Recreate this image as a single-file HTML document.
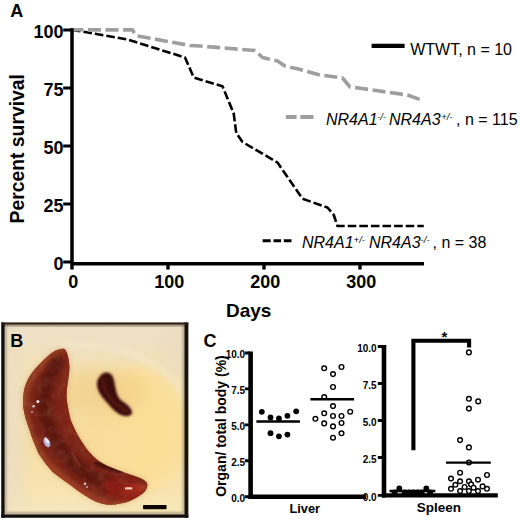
<!DOCTYPE html>
<html><head><meta charset="utf-8">
<style>
html,body{margin:0;padding:0;background:#fff;}
body{width:520px;height:521px;overflow:hidden;font-family:"Liberation Sans",sans-serif;}
svg{display:block;}
text{font-family:"Liberation Sans",sans-serif;fill:#000;}
.b{font-weight:bold;}
.i{font-style:italic;}
</style></head><body>
<svg width="520" height="521" viewBox="0 0 520 521">
<defs>
  <filter id="bl1" x="-10%" y="-10%" width="120%" height="120%"><feGaussianBlur stdDeviation="0.9"/></filter>
  <filter id="bl2" x="-20%" y="-20%" width="140%" height="140%"><feGaussianBlur stdDeviation="2.5"/></filter>
  <filter id="bl3" x="-20%" y="-20%" width="140%" height="140%"><feGaussianBlur stdDeviation="0.6"/></filter>
  <filter id="bl8" x="-30%" y="-30%" width="160%" height="160%"><feGaussianBlur stdDeviation="8"/></filter>
  <linearGradient id="bg" x1="0" y1="0" x2="1" y2="1">
    <stop offset="0" stop-color="#f3e4c6"/>
    <stop offset="0.45" stop-color="#f8e0ab"/>
    <stop offset="0.75" stop-color="#f6d898"/>
    <stop offset="1" stop-color="#f7e3b4"/>
  </linearGradient>
  <linearGradient id="sp" x1="0.3" y1="0" x2="0.8" y2="1">
    <stop offset="0" stop-color="#7a2a14"/>
    <stop offset="0.35" stop-color="#5a170f"/>
    <stop offset="0.7" stop-color="#74190f"/>
    <stop offset="1" stop-color="#9a2416"/>
  </linearGradient>
  <filter id="mot" x="0" y="0" width="100%" height="100%"><feTurbulence type="fractalNoise" baseFrequency="0.085" numOctaves="2" seed="7"/><feColorMatrix type="matrix" values="0 0 0 0 0.22  0 0 0 0 0.04  0 0 0 0 0.03  2.2 0 0 0 -0.95"/><feGaussianBlur stdDeviation="0.7"/></filter>
  <filter id="mot2" x="0" y="0" width="100%" height="100%"><feTurbulence type="fractalNoise" baseFrequency="0.11" numOctaves="2" seed="21"/><feColorMatrix type="matrix" values="0 0 0 0 0.68  0 0 0 0 0.26  0 0 0 0 0.16  0 2.4 0 0 -1.15"/><feGaussianBlur stdDeviation="0.7"/></filter>
  <clipPath id="pc"><rect x="2" y="322.5" width="186.5" height="194.5"/></clipPath>
</defs>
<rect width="520" height="521" fill="#fff"/>

<!-- ===== Panel A ===== -->
<g id="pA">
<text class="b" x="10.2" y="16.9" font-size="18">A</text>
<g class="b" font-size="18" text-anchor="end">
<text x="63.6" y="38.2">100</text>
<text x="63.6" y="96.2">75</text>
<text x="63.6" y="154.2">50</text>
<text x="63.6" y="212.2">25</text>
<text x="63.6" y="270.2">0</text>
</g>
<g class="b" font-size="18" text-anchor="middle">
<text x="73.2" y="287.9">0</text>
<text x="169.3" y="287.9">100</text>
<text x="265.2" y="287.9">200</text>
<text x="361.2" y="287.9">300</text>
</g>
<text class="b" font-size="19" x="226" y="316.5">Days</text>
<text class="b" font-size="19.35" transform="translate(24 223.5) rotate(-90)">Percent survival</text>
<!-- black curve -->
<path d="M72 29.9 L95 33.75 L127.5 39.5 L185 57.5 L193.75 77.5 L200 79.5 L222.5 86.25 L233.75 113.75 L236.25 133 L242.5 142 L277.5 162.5 L302.5 198.75 L327.5 207.5 L333.75 215 L337.5 226 L423.8 226" stroke="#000" stroke-width="2.6" fill="none" stroke-dasharray="8.6 3" stroke-linejoin="round"/>
<!-- grey curve -->
<path d="M70.3 29.8 L132.6 29.9 L135.2 34.6 L138.8 36.2 L190 45.5 L200 46 L255 50.5 L262.5 57.5 L277.5 61 L285 66 L297.5 68.75 L320 75 L342.5 78 L350 87 L355 87.5 L407.5 95 L420 99.5" stroke="#9e9e9e" stroke-width="3.6" fill="none" stroke-dasharray="13.1 4.5" stroke-linejoin="round"/>
<!-- axes -->
<path d="M72 28.3V265.4M70.25 263.65H424" stroke="#000" stroke-width="3.5" fill="none"/>
<path d="M63.2 30H72M63.2 88H72M63.2 146H72M63.2 204H72M63.2 262H72" stroke="#000" stroke-width="3.2" fill="none"/>
<path d="M72 265V269.4M168 265V269.4M264 265V269.4M360 265V269.4" stroke="#000" stroke-width="3.4" fill="none"/>
<!-- legend -->
<path d="M371.6 45.8H404.6" stroke="#000" stroke-width="4.2"/>
<text font-size="16" x="410.2" y="55">WTWT, n = 10</text>
<path d="M285.8 117H296.6M300.3 117H313.5" stroke="#9e9e9e" stroke-width="3.9"/>
<g font-size="16">
<text class="i" x="326" y="125">NR4A1</text>
<text class="i" x="377" y="120.2" font-size="9.5">-/-</text>
<text class="i" x="389" y="125">NR4A3</text>
<text class="i" x="441.2" y="120.2" font-size="9.5">+/-</text>
<text x="456" y="125">, n = 115</text>
</g>
<path d="M262.6 240.8H270.7M273.5 240.8H281.1M283.8 240.8H291.5" stroke="#000" stroke-width="3"/>
<g font-size="16">
<text class="i" x="302" y="248.2">NR4A1</text>
<text class="i" x="353.6" y="243.4" font-size="9.5">+/-</text>
<text class="i" x="369" y="248.2">NR4A3</text>
<text class="i" x="420.6" y="243.4" font-size="9.5">-/-</text>
<text x="432.6" y="248.2">, n = 38</text>
</g>
</g>

<!-- ===== Panel B ===== -->
<g id="pB">
<defs>
  <clipPath id="bigclip"><path d="M64.5 349 C67 351 69 358 69.5 367 C69.5 376 66.5 386 66.5 395.6 C67 405 69 412 70.6 419.8 C73 426 76 432 78.9 437 C83 444 90 455 100 461.7 C108 466.5 114 468.5 120.5 471 C127 473.5 131 474.5 134.8 476 C139 477.5 142 478.5 143.9 480.1 C146.5 482 147.8 483.5 147.4 485.2 C147 488 146 489.5 144.9 491.3 C142 494.5 138 496.5 134.8 498.4 C130 501 126 502.5 120.5 503.5 C115 504.8 111 504.8 106.3 504.5 C100 503.5 95 501 90 498.4 C83 494.5 76 489.5 69.1 484.1 C63 479.5 58 476 52.8 471.9 C47 466 42.5 459.5 38.6 453.6 C35.5 446 32 438.5 30 431.3 C27.5 424 25.5 419 24.8 415 C23.3 409 23 405 23.2 401 C23.3 396 23.6 393 24.2 389.6 C25.5 384 27.5 380 30.2 375.5 C33 371 36.5 367 40.3 363.4 C45 358.5 50 354 54.4 351.3 C58 349.5 62 348.3 64.5 349 Z"/></clipPath>
  <linearGradient id="bgv" x1="0" y1="0" x2="0" y2="1">
    <stop offset="0" stop-color="#ecdfc6"/>
    <stop offset="0.3" stop-color="#f6e2b4"/>
    <stop offset="0.6" stop-color="#f7dea4"/>
    <stop offset="1" stop-color="#f8e6b8"/>
  </linearGradient>
</defs>
<rect x="2" y="322.5" width="186.5" height="194.5" fill="url(#bgv)"/>
<g clip-path="url(#pc)">
  <!-- background tonal variation -->
  <ellipse cx="142" cy="430" rx="46" ry="62" fill="#fbdf98" filter="url(#bl8)" opacity="0.95"/>
  <ellipse cx="100" cy="440" rx="34" ry="26" fill="#f8dc9a" filter="url(#bl8)" opacity="0.7"/>
  <ellipse cx="100" cy="392" rx="48" ry="24" fill="#f2d08a" filter="url(#bl8)" opacity="0.75"/>
  <ellipse cx="11" cy="430" rx="13" ry="100" fill="#ecdec2" filter="url(#bl8)" opacity="0.95"/>
  <ellipse cx="50" cy="512" rx="70" ry="9" fill="#f5e6c4" filter="url(#bl8)" opacity="0.85"/>
  <ellipse cx="165" cy="508" rx="30" ry="10" fill="#f8e8b6" filter="url(#bl8)" opacity="0.85"/>
  <ellipse cx="100" cy="333" rx="95" ry="11" fill="#eee0c6" filter="url(#bl8)" opacity="0.9"/>
  <ellipse cx="178" cy="350" rx="14" ry="30" fill="#ecdcc0" filter="url(#bl8)" opacity="0.8"/>
  <path d="M60 345 C110 340 170 360 186 400" stroke="#faefd8" stroke-width="6" fill="none" filter="url(#bl2)" opacity="0.4"/>
  <!-- soft halo of large spleen -->
  <path d="M64.5 349 C67 351 69 358 69.5 367 C69.5 376 66.5 386 66.5 395.6 C67 405 69 412 70.6 419.8 C73 426 76 432 78.9 437 C83 444 90 455 100 461.7 C108 466.5 114 468.5 120.5 471 C127 473.5 131 474.5 134.8 476 C139 477.5 142 478.5 143.9 480.1 C146.5 482 147.8 483.5 147.4 485.2 C147 488 146 489.5 144.9 491.3 C142 494.5 138 496.5 134.8 498.4 C130 501 126 502.5 120.5 503.5 C115 504.8 111 504.8 106.3 504.5 C100 503.5 95 501 90 498.4 C83 494.5 76 489.5 69.1 484.1 C63 479.5 58 476 52.8 471.9 C47 466 42.5 459.5 38.6 453.6 C35.5 446 32 438.5 30 431.3 C27.5 424 25.5 419 24.8 415 C23.3 409 23 405 23.2 401 C23.3 396 23.6 393 24.2 389.6 C25.5 384 27.5 380 30.2 375.5 C33 371 36.5 367 40.3 363.4 C45 358.5 50 354 54.4 351.3 C58 349.5 62 348.3 64.5 349 Z" fill="#c98a52" filter="url(#bl2)" opacity="0.55"/>
  <!-- large spleen -->
  <g filter="url(#bl3)">
    <path d="M64.5 349 C67 351 69 358 69.5 367 C69.5 376 66.5 386 66.5 395.6 C67 405 69 412 70.6 419.8 C73 426 76 432 78.9 437 C83 444 90 455 100 461.7 C108 466.5 114 468.5 120.5 471 C127 473.5 131 474.5 134.8 476 C139 477.5 142 478.5 143.9 480.1 C146.5 482 147.8 483.5 147.4 485.2 C147 488 146 489.5 144.9 491.3 C142 494.5 138 496.5 134.8 498.4 C130 501 126 502.5 120.5 503.5 C115 504.8 111 504.8 106.3 504.5 C100 503.5 95 501 90 498.4 C83 494.5 76 489.5 69.1 484.1 C63 479.5 58 476 52.8 471.9 C47 466 42.5 459.5 38.6 453.6 C35.5 446 32 438.5 30 431.3 C27.5 424 25.5 419 24.8 415 C23.3 409 23 405 23.2 401 C23.3 396 23.6 393 24.2 389.6 C25.5 384 27.5 380 30.2 375.5 C33 371 36.5 367 40.3 363.4 C45 358.5 50 354 54.4 351.3 C58 349.5 62 348.3 64.5 349 Z" fill="#7a2416"/>
    <g clip-path="url(#bigclip)">
      <!-- lighter outer edge -->
      <path d="M66 347 C50 352 30 372 24 392 C20 412 28 438 42 458 C58 478 85 498 106 505 C125 507 140 498 148 486" stroke="#9c4426" stroke-width="9" fill="none" filter="url(#bl2)" opacity="0.95"/>
      <!-- dark core -->
      <path d="M58 362 C46 378 42 398 46 418 C52 440 68 462 92 478 C104 484 112 486 120 488" stroke="#56160f" stroke-width="14" fill="none" filter="url(#bl2)" opacity="0.85" stroke-linecap="round"/>
      <!-- redder inner edge upper -->
      <path d="M67 352 C70 372 64 392 68 412 C72 430 82 446 94 458" stroke="#8e2c18" stroke-width="5" fill="none" filter="url(#bl2)" opacity="0.85"/>
      <!-- right lobe redder -->
      <ellipse cx="124" cy="489" rx="22" ry="10" transform="rotate(12 124 489)" fill="#8e1e13" filter="url(#bl2)" opacity="0.95"/>
      <ellipse cx="134" cy="490" rx="10" ry="5" fill="#ae2e1c" filter="url(#bl2)" opacity="0.8"/>
      <!-- dark ridge on inner edge -->
      <path d="M96 463 C104 467 112 469 120 472" stroke="#3e0c08" stroke-width="4" fill="none" filter="url(#bl1)" opacity="0.9" stroke-linecap="round"/>
      <rect x="20" y="345" width="132" height="164" filter="url(#mot)" opacity="0.5"/>
      <rect x="20" y="345" width="132" height="164" filter="url(#mot2)" opacity="0.16"/>
      <!-- lower-left reddish edge -->
      <path d="M44 462 C60 482 86 498 108 505" stroke="#a23a26" stroke-width="6" fill="none" filter="url(#bl2)" opacity="0.8"/>
    </g>
  </g>
  <!-- specular highlights -->
  <g filter="url(#bl3)">
    <ellipse cx="46.9" cy="442.5" rx="3" ry="5" transform="rotate(-25 46.9 442.5)" fill="#b9b4d4"/>
    <ellipse cx="47.4" cy="441.2" rx="1.5" ry="2.6" transform="rotate(-25 47.4 441.2)" fill="#eeeefc"/>
    <circle cx="37.9" cy="401.5" r="1.5" fill="#eeeaf6"/>
    <circle cx="33.6" cy="406.3" r="1.3" fill="#d6c6d0"/>
    <circle cx="32" cy="412" r="1" fill="#c09a9a"/>
    <circle cx="45.6" cy="438.5" r="1.2" fill="#e6d6e0"/>
    <circle cx="85" cy="483.8" r="1.2" fill="#e6d0d6"/>
    <circle cx="87" cy="487" r="0.9" fill="#d6b6bc"/>
    <rect x="125" y="487.3" width="7.4" height="2.2" rx="1.1" fill="#f6cfb4"/>
    <path d="M72 452 L80 466" stroke="#b8584a" stroke-width="1.2" opacity="0.4"/>
  </g>
  <!-- small spleen -->
  <path d="M106.2 372.6 C103 373 100.5 375 99.1 377.6 C97.5 380 96.8 382 97.1 384.7 C97.3 388 98.5 391 100.1 393.8 C102.5 397.5 105 400.5 108.2 403.9 C111 407 113.5 409.5 116.3 411.9 C119 414 122 415.5 125.3 416 C127.5 416.3 129.5 416 130.4 415 C131.8 414 132.3 413 132 411.9 C131.5 409.5 130 407.5 128.4 405.9 C126 403.5 123 402 120.3 399.8 C118.5 397.5 117 395 116.3 391.7 C115.3 388 114.8 385 114.2 381.6 C113.5 378.5 112.8 376.2 111.2 374.6 C109.8 373.2 108 372.5 106.2 372.6 Z" fill="#a8683c" filter="url(#bl2)" opacity="0.35"/>
  <g filter="url(#bl1)">
    <path d="M106.2 372.6 C103 373 100.5 375 99.1 377.6 C97.5 380 96.8 382 97.1 384.7 C97.3 388 98.5 391 100.1 393.8 C102.5 397.5 105 400.5 108.2 403.9 C111 407 113.5 409.5 116.3 411.9 C119 414 122 415.5 125.3 416 C127.5 416.3 129.5 416 130.4 415 C131.8 414 132.3 413 132 411.9 C131.5 409.5 130 407.5 128.4 405.9 C126 403.5 123 402 120.3 399.8 C118.5 397.5 117 395 116.3 391.7 C115.3 388 114.8 385 114.2 381.6 C113.5 378.5 112.8 376.2 111.2 374.6 C109.8 373.2 108 372.5 106.2 372.6 Z" fill="#3c0d0b"/>
    <path d="M103 378 C102 386 108 398 118 406 C122 409 126 411 129 412" stroke="#5e1a12" stroke-width="3" fill="none" filter="url(#bl1)" opacity="0.8"/>
  </g>
  <!-- scale bar -->
  <rect x="143" y="505" width="23.6" height="4.2" rx="0.8" fill="#0c0604"/>
  <!-- top dark edge fade -->
  <rect x="2" y="322.5" width="186.5" height="4" fill="#5a4630" filter="url(#bl1)" opacity="0.55"/>
</g>
<!-- frame -->
<path d="M5 324V515M184 324V515M4 513.6H185" stroke="#5a5046" stroke-width="3" fill="none" filter="url(#bl1)" opacity="0.4"/>
<path d="M2.9 322.4V517.7" stroke="#120e0c" stroke-width="3.3" fill="none"/>
<path d="M1.3 516.1H188.3" stroke="#120e0c" stroke-width="3.2" fill="none"/>
<path d="M186.4 322.4V517.7" stroke="#161210" stroke-width="3.8" fill="none"/>
<path d="M1.3 323.4H188.3" stroke="#2c221a" stroke-width="2" fill="none"/>
<text class="b" x="10.3" y="347.4" font-size="18">B</text>
</g>

<!-- ===== Panel C ===== -->
<g id="pC">
<text class="b" x="203.4" y="346.6" font-size="18">C</text>
<!-- liver axes -->
<path d="M250.6 351.5V499M248.3 496.7H366" stroke="#000" stroke-width="4.6" fill="none"/>
<path d="M244.8 353H250M244.8 388.9H250M244.8 424.85H250M244.8 460.8H250M244.8 496.7H250" stroke="#000" stroke-width="2.9" fill="none"/>
<g class="b" font-size="10" text-anchor="end">
<text x="245.2" y="358.10">10.0</text><text x="245.2" y="394.00">7.5</text><text x="245.2" y="429.95">5.0</text><text x="245.2" y="465.90">2.5</text><text x="245.2" y="501.80">0.0</text>
</g>
<text class="b" font-size="14" transform="translate(225.5 496.8) rotate(-90)">Organ/ total body (%)</text>
<text class="b" font-size="12.8" x="289.4" y="513">Liver</text>
<g fill="#000">
<circle cx="261.8" cy="411.8" r="2.9"/>
<circle cx="270.5" cy="417.5" r="2.9"/>
<circle cx="278.9" cy="418.5" r="2.9"/>
<circle cx="287.4" cy="415.8" r="2.9"/>
<circle cx="296.2" cy="411.3" r="2.9"/>
<circle cx="270.5" cy="433.2" r="2.9"/>
<circle cx="278.9" cy="436.3" r="2.9"/>
<circle cx="287.4" cy="434.6" r="2.9"/>
</g>
<g fill="#fff" stroke="#000" stroke-width="1.4">
<circle cx="324.2" cy="368.3" r="2.35"/>
<circle cx="341.5" cy="367" r="2.35"/>
<circle cx="333" cy="374.1" r="2.35"/>
<circle cx="333" cy="387" r="2.35"/>
<circle cx="324.2" cy="397.1" r="2.35"/>
<circle cx="333" cy="406.1" r="2.35"/>
<circle cx="324.2" cy="413.3" r="2.35"/>
<circle cx="333" cy="416" r="2.35"/>
<circle cx="341.5" cy="416" r="2.35"/>
<circle cx="350.2" cy="411.7" r="2.35"/>
<circle cx="315.4" cy="418.8" r="2.35"/>
<circle cx="324.2" cy="423.4" r="2.35"/>
<circle cx="341.5" cy="423" r="2.35"/>
<circle cx="333" cy="426.4" r="2.35"/>
<circle cx="341.5" cy="433.3" r="2.35"/>
<circle cx="333" cy="437.7" r="2.35"/>
</g>
<path d="M256.4 421.5H299.9M310.4 399.2H354.1" stroke="#000" stroke-width="2.4"/>
<!-- spleen axes -->
<path d="M384 344.9V497.6" stroke="#000" stroke-width="4.6" fill="none"/>
<path d="M381.7 495.4H497.8" stroke="#000" stroke-width="4.4" fill="none"/>
<path d="M377.8 346.5H383M377.8 383.5H383M377.8 420.5H383M377.8 457.5H383M377.8 495.4H383" stroke="#000" stroke-width="2.9" fill="none"/>
<g class="b" font-size="10" text-anchor="end">
<text x="376.7" y="351.60">10.0</text><text x="376.7" y="388.60">7.5</text><text x="376.7" y="425.60">5.0</text><text x="376.7" y="462.60">2.5</text><text x="376.7" y="500.50">0.0</text>
</g>
<text class="b" font-size="13.5" x="416.8" y="512.1">Spleen</text>
<path d="M413.4 450.3V340.7H469.1V347.6" stroke="#000" stroke-width="4.1" fill="none" stroke-linejoin="miter"/>
<text class="b" font-size="15" x="444.4" y="342" text-anchor="middle">*</text>
<g fill="#000">
<circle cx="394.6" cy="492.4" r="2.9"/>
<circle cx="399.3" cy="488.5" r="2.9"/>
<circle cx="404.6" cy="492.4" r="2.9"/>
<circle cx="409" cy="492.4" r="2.9"/>
<circle cx="413.4" cy="492.4" r="2.9"/>
<circle cx="417.8" cy="492.4" r="2.9"/>
<circle cx="421.6" cy="492.4" r="2.9"/>
<circle cx="426.3" cy="488.5" r="2.9"/>
<circle cx="430.2" cy="492.4" r="2.9"/>
</g>
<g fill="#fff" stroke="#000" stroke-width="1.4">
<circle cx="468.9" cy="352.4" r="2.35"/>
<circle cx="468.9" cy="398.8" r="2.35"/>
<circle cx="478.2" cy="401.4" r="2.35"/>
<circle cx="468.9" cy="408.6" r="2.35"/>
<circle cx="460.1" cy="440.1" r="2.35"/>
<circle cx="468.9" cy="447.4" r="2.35"/>
<circle cx="468.9" cy="462.5" r="2.35"/>
<circle cx="460.1" cy="472.7" r="2.35"/>
<circle cx="487" cy="475" r="2.35"/>
<circle cx="451" cy="478.6" r="2.35"/>
<circle cx="478" cy="479.7" r="2.35"/>
<circle cx="460.1" cy="481.3" r="2.35"/>
<circle cx="468.9" cy="481.3" r="2.35"/>
<circle cx="471.1" cy="484.4" r="2.35"/>
<circle cx="455.4" cy="484.8" r="2.35"/>
<circle cx="464.6" cy="487" r="2.35"/>
<circle cx="473.6" cy="487.7" r="2.35"/>
<circle cx="482.6" cy="486.4" r="2.35"/>
<circle cx="451" cy="488.8" r="2.35"/>
<circle cx="487" cy="488.8" r="2.35"/>
<circle cx="460.1" cy="491.1" r="2.35"/>
<circle cx="468.9" cy="491.1" r="2.35"/>
<circle cx="478" cy="491.1" r="2.35"/>
</g>
<path d="M389.5 491H435.3M446 462.6H490.8" stroke="#000" stroke-width="2.4"/>
</g>
</svg>
</body></html>
